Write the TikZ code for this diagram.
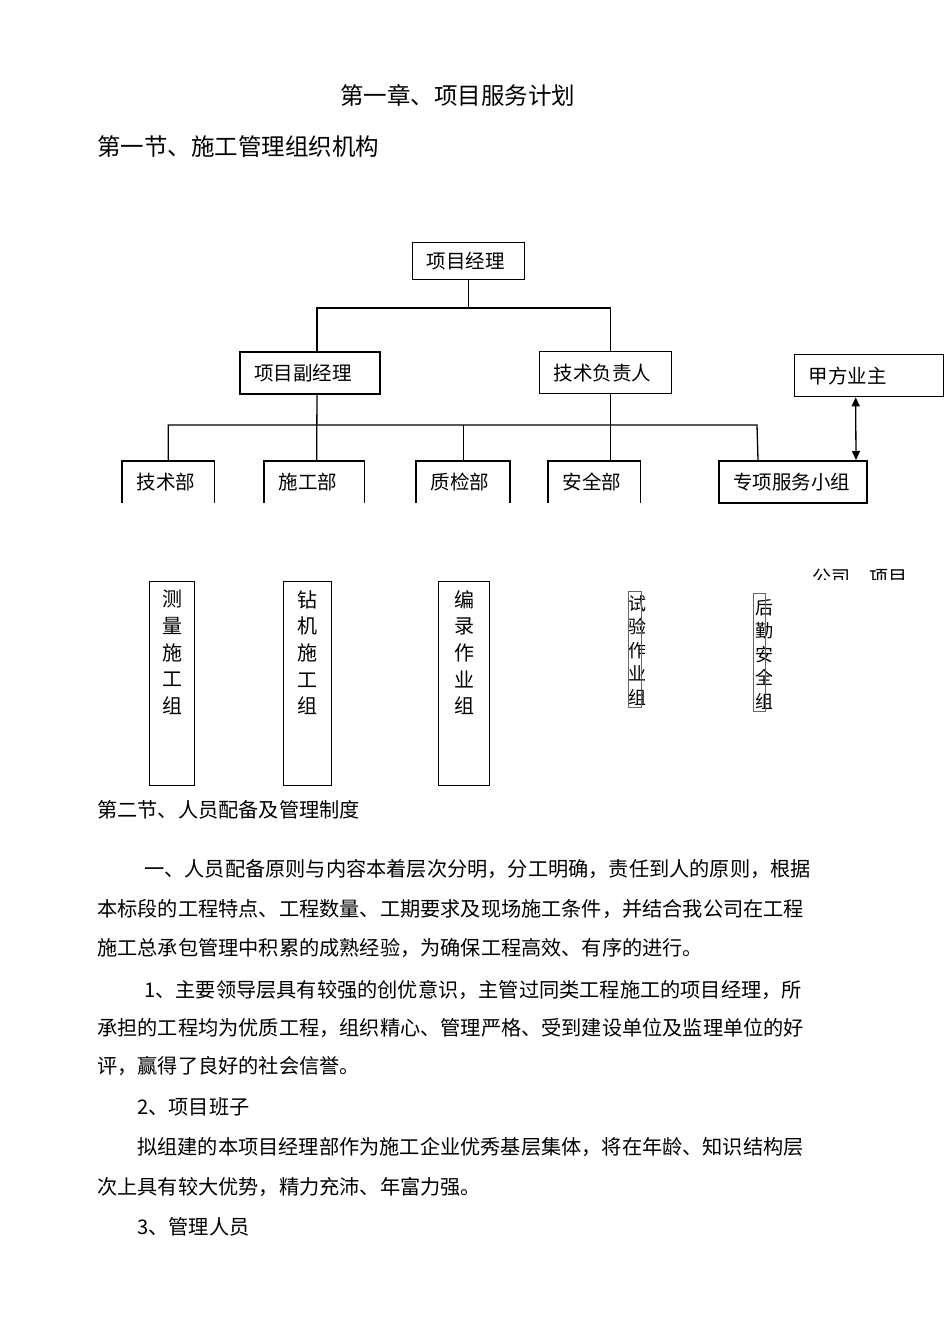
\documentclass[tikz,border=0pt]{standalone}
\usepackage{fontspec}
\setmainfont{Noto Sans CJK SC}
\usepackage{tikz}
\usetikzlibrary{arrows.meta,positioning}
\XeTeXlinebreaklocale "zh"
\XeTeXlinebreakskip=0pt plus 3pt
\tikzset{
  orgbox/.style={rectangle,draw=black,line width=1.3pt,anchor=north west,inner xsep=14pt,inner ysep=0pt,align=left,font=\fontsize{19.5}{22}\selectfont},
  boldbox/.style={orgbox,line width=2pt},
  openbox/.style={orgbox,draw=none},
  colbox/.style={rectangle,draw=black,line width=1.3pt,anchor=north west,inner sep=0pt},
  thinbox/.style={rectangle,draw=black!60,line width=0.8pt,anchor=north west,inner sep=0pt},
  vlabel/.style={anchor=north,yshift=-9pt,align=center,inner sep=0pt,font=\fontsize{20}{26.7}\selectfont},
  vnarrow/.style={anchor=north west,inner sep=0pt,align=left,font=\fontsize{18}{23.5}\selectfont},
  conn/.style={line width=1.3pt,color=black},
  dblarr/.style={<->,>={Triangle[length=9pt,width=8pt]},line width=1.3pt},
  headtext/.style={anchor=west,inner sep=0pt,font=\fontsize{23.5}{28}\selectfont},
  bodyline/.style={anchor=west,inner sep=0pt,font=\fontsize{20.2}{24}\selectfont}
}
\newcommand{\jline}[2]{\makebox[#1][s]{#2}}

\begin{document}
\begin{tikzpicture}[x=1pt,y=-1pt]
  \useasboundingbox (0,0) rectangle (950,1344);

  %% Headings
  \node[headtext] (title) at (340,95) {第一章、项目服务计划};
  \node[headtext] (sec1) at (97,147) {第一节、施工管理组织机构};

  %% Management levels
  \node[orgbox,text width=84pt,minimum height=37pt] (pm) at (412,242) {项目经理};
  \node[boldbox,text width=112pt,minimum height=42pt] (dpm) at (239,351) {项目副经理};
  \node[orgbox,text width=104pt,minimum height=42pt] (tech) at (539,351) {技术负责人};
  \node[orgbox,text width=121pt,minimum height=42pt] (owner) at (794,354) {甲方业主};

  %% Departments
  \node[openbox,text width=63pt,minimum height=41pt] (d1) at (122,461) {技术部};
  \node[openbox,text width=71pt,minimum height=41pt] (d2) at (264,461) {施工部};
  \node[openbox,text width=65pt,minimum height=41pt] (d3) at (416,461) {质检部};
  \node[openbox,text width=63pt,minimum height=41pt] (d4) at (548,461) {安全部};
  \node[boldbox,text width=120pt,minimum height=42pt] (svc) at (718,460) {专项服务小组};

  %% Working groups
  \node[colbox,minimum width=45pt,minimum height=204pt,label={[vlabel]north:测\\量\\施\\工\\组}] (g1) at (149,581) {};
  \node[colbox,minimum width=48pt,minimum height=204pt,label={[vlabel]north:钻\\机\\施\\工\\组}] (g2) at (283,581) {};
  \node[colbox,minimum width=51pt,minimum height=204pt,label={[vlabel]north:编\\录\\作\\业\\组}] (g3) at (438,581) {};
  \begin{scope}
    \clip (620,585) rectangle (645,715);
    \node[vnarrow] (g4t) at (628,595) {试\\验\\作\\业\\组};
  \end{scope}
  \begin{scope}
    \clip (745,585) rectangle (771,720);
    \node[vnarrow] (g5t) at (755,599) {后\\勤\\安\\全\\组};
  \end{scope}
  \node[thinbox,minimum width=13pt,minimum height=116pt] (g4) at (628,591) {};
  \node[thinbox,minimum width=12pt,minimum height=118pt] (g5) at (753,593) {};
  \begin{scope}
    \clip (800,560) rectangle (920,579);
    \node[bodyline,font=\fontsize{19}{22}\selectfont] (cut) at (812,577) {公司、项目};
  \end{scope}

  %% ── CONNECTORS ─────────────────────────────
  \coordinate (bus1) at (467,308);
  \coordinate (bus2e) at (757,425);
  \draw[conn] (pm.south) -- (pm.south |- bus1);
  \draw[conn] ([xshift=7pt]dpm.north) |- (bus1) -| ([xshift=5pt]tech.north);
  \draw[conn] ([xshift=7pt]dpm.south) -- ([xshift=2.5pt]d2.north);
  \draw[conn] ([xshift=5pt]tech.south) -- ([xshift=16.5pt]d4.north);
  \draw[conn] (d1.north) |- (bus2e) -- ([xshift=-35pt]svc.north);
  \draw[conn] (d3.north) -- (d3.north |- bus2e);

  %% owner <-> service group
  \draw[dblarr] ([xshift=-13.5pt]owner.south) -- ([xshift=63pt]svc.north);

  %% open department frames
  \foreach \d in {d1,d2,d4}
    \draw[conn] (\d.south west) -- (\d.north west) -- (\d.north east) -- (\d.south east);
  \draw[conn,line width=2pt] (d3.south west) -- (d3.north west) -- (d3.north east) -- (d3.south east);

  %% Section two text
  \node[bodyline] (sec2) at (97,810) {第二节、人员配备及管理制度};
  \node[bodyline] (p1) at (144,869) {\jline{669pt}{一、人员配备原则与内容本着层次分明，分工明确，责任到人的原则，根据}};
  \node[bodyline] (p2) at (97,909) {\jline{710pt}{本标段的工程特点、工程数量、工期要求及现场施工条件，并结合我公司在工程}};
  \node[bodyline] (p3) at (97,948) {施工总承包管理中积累的成熟经验，为确保工程高效、有序的进行。};
  \node[bodyline] (q1) at (144,990) {\jline{669pt}{1、主要领导层具有较强的创优意识，主管过同类工程施工的项目经理，所}};
  \node[bodyline] (q2) at (97,1028) {\jline{716pt}{承担的工程均为优质工程，组织精心、管理严格、受到建设单位及监理单位的好}};
  \node[bodyline] (q3) at (97,1066) {评，赢得了良好的社会信誉。};
  \node[bodyline] (q4) at (137,1107) {2、项目班子};
  \node[bodyline] (r1) at (137,1147) {\jline{673pt}{拟组建的本项目经理部作为施工企业优秀基层集体，将在年龄、知识结构层}};
  \node[bodyline] (r2) at (97,1187) {次上具有较大优势，精力充沛、年富力强。};
  \node[bodyline] (r3) at (137,1227) {3、管理人员};

\end{tikzpicture}
\end{document}
